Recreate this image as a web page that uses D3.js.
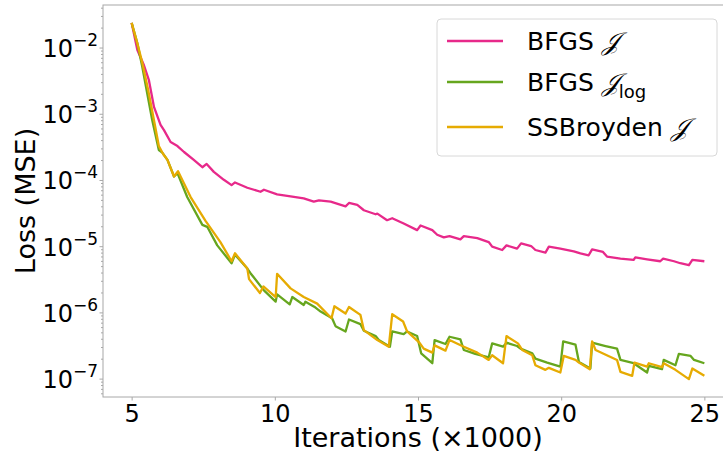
<!DOCTYPE html>
<html>
<head>
<meta charset="utf-8">
<script src="https://cdn.jsdelivr.net/npm/d3@7"></script>
<style>
  body { margin: 0; background: #fff; }
  text { font-family: "DejaVu Sans", sans-serif; fill: #000; }
</style>
</head>
<body>
<div id="chart"></div>
<script>
// series names, colours
const seriesNames = ['BFGS', 'BFGS', 'SSBroyden'];
const colors = ['#e7298a', '#66a61e', '#e6ab02'];

// x values (x1000 iterations) and log10 of loss
const bfgsX = [5, 5.2, 5.43, 5.6, 5.78, 6.01, 6.13, 6.36, 6.6, 6.83, 7.17, 7.47, 7.62, 7.87, 8.22, 8.49, 8.61, 9.04, 9.5, 9.62, 10.08, 10.55, 11.01, 11.36, 11.54, 11.95, 12.47, 12.59, 12.88, 13.11, 13.52, 13.58, 13.92, 14.1, 14.5, 14.97, 15.09, 15.5, 15.67, 15.9, 16.1, 16.48, 16.6, 17.07, 17.47, 17.59, 17.94, 18.09, 18.46, 18.6, 18.95, 19.1, 19.45, 19.57, 19.97, 20.44, 20.67, 20.96, 21.08, 21.46, 21.6, 22.07, 22.53, 22.59, 23.0, 23.46, 23.56, 23.94, 24.16, 24.46, 24.58, 25.0];
const bfgsLog = [-1.62, -2.03, -2.26, -2.48, -2.89, -3.16, -3.24, -3.42, -3.48, -3.57, -3.69, -3.80, -3.75, -3.87, -3.99, -4.07, -4.03, -4.11, -4.17, -4.14, -4.21, -4.24, -4.27, -4.32, -4.30, -4.32, -4.39, -4.34, -4.37, -4.45, -4.51, -4.50, -4.60, -4.57, -4.65, -4.75, -4.68, -4.75, -4.82, -4.86, -4.84, -4.89, -4.84, -4.87, -4.93, -5.00, -5.05, -4.98, -5.03, -4.95, -4.99, -5.05, -5.09, -5.00, -5.03, -5.07, -5.10, -5.13, -5.04, -5.08, -5.15, -5.18, -5.20, -5.16, -5.19, -5.22, -5.18, -5.22, -5.25, -5.28, -5.20, -5.22];

const logX = [5, 5.2, 5.37, 5.55, 5.72, 5.95, 6.07, 6.25, 6.48, 6.6, 6.94, 7.47, 7.64, 7.99, 8.49, 8.61, 9.04, 9.15, 9.62, 10.03, 10.08, 10.52, 10.61, 11.01, 11.07, 11.42, 11.6, 12.0, 12.12, 12.47, 12.59, 12.99, 13.11, 13.52, 13.63, 14.02, 14.1, 14.5, 14.62, 14.97, 15.11, 15.5, 15.58, 15.96, 16.1, 16.48, 16.6, 17.0, 17.47, 17.59, 17.97, 18.09, 18.46, 18.58, 18.99, 19.1, 19.51, 19.97, 20.07, 20.5, 20.62, 21.02, 21.08, 21.55, 21.95, 22.07, 22.53, 23.0, 23.06, 23.52, 23.58, 23.99, 24.11, 24.52, 24.64, 25.0];
const logLog = [-1.62, -1.93, -2.28, -2.70, -3.09, -3.54, -3.58, -3.69, -3.94, -3.89, -4.25, -4.67, -4.70, -4.98, -5.25, -5.12, -5.33, -5.40, -5.66, -5.83, -5.72, -5.87, -5.76, -5.88, -5.83, -5.92, -5.98, -6.08, -6.20, -6.28, -6.10, -6.17, -6.27, -6.35, -6.41, -6.51, -6.28, -6.32, -6.28, -6.35, -6.61, -6.76, -6.41, -6.47, -6.36, -6.40, -6.56, -6.62, -6.67, -6.46, -6.51, -6.45, -6.50, -6.54, -6.61, -6.69, -6.75, -6.81, -6.43, -6.48, -6.74, -6.84, -6.45, -6.50, -6.54, -6.71, -6.76, -6.90, -6.80, -6.85, -6.71, -6.79, -6.62, -6.65, -6.71, -6.76];

const ssbX = [5, 5.2, 5.37, 5.57, 5.78, 5.95, 6.1, 6.25, 6.48, 6.62, 7.06, 7.58, 8.1, 8.49, 8.61, 9.04, 9.1, 9.48, 9.6, 10.03, 10.08, 10.55, 11.01, 11.48, 11.98, 12.08, 12.47, 12.59, 12.99, 13.11, 13.58, 13.98, 14.1, 14.48, 14.62, 15.03, 15.2, 15.5, 15.58, 15.96, 16.1, 16.6, 17.07, 17.47, 17.59, 17.97, 18.09, 18.49, 18.64, 18.99, 19.1, 19.45, 19.57, 19.97, 20.09, 20.5, 20.62, 21.0, 21.08, 21.2, 21.95, 22.07, 22.48, 22.56, 23.0, 23.06, 23.52, 23.58, 23.99, 24.46, 24.58, 25.0];
const ssbLog = [-1.62, -1.93, -2.22, -2.62, -3.09, -3.48, -3.60, -3.69, -3.94, -3.86, -4.25, -4.61, -4.93, -5.22, -5.10, -5.33, -5.49, -5.70, -5.60, -5.76, -5.41, -5.63, -5.76, -5.86, -6.08, -5.90, -6.01, -5.91, -6.03, -6.26, -6.41, -6.51, -6.02, -6.13, -6.28, -6.44, -6.54, -6.60, -6.49, -6.57, -6.41, -6.51, -6.60, -6.71, -6.64, -6.76, -6.35, -6.46, -6.56, -6.64, -6.79, -6.86, -6.83, -6.90, -6.65, -6.71, -6.75, -6.85, -6.43, -6.56, -6.71, -6.89, -6.95, -6.75, -6.81, -6.76, -6.82, -6.76, -6.86, -7.00, -6.84, -6.95];

const xTicks = [5, 10, 15, 20, 25];
const yTickExps = [-2, -3, -4, -5, -6, -7];

const width = 723, height = 455;
const svg = d3.select('#chart').append('svg')
  .attr('width', width)
  .attr('height', height);

const x = d3.scaleLinear().domain([4, 26]).range([103, 733]);
const y = d3.scaleLog().domain([Math.pow(10, -7.27), Math.pow(10, -1.35)]).range([397, 5]);

const series = [
  { xs: bfgsX, ls: bfgsLog },
  { xs: logX, ls: logLog },
  { xs: ssbX, ls: ssbLog }
].map((s, i) => ({
  color: colors[i],
  pts: s.xs.map((v, j) => [v, Math.pow(10, s.ls[j])])
}));

const line = d3.line().x(d => x(d[0])).y(d => y(d[1]));

svg.append('g')
  .selectAll('path')
  .data(series)
  .join('path')
  .attr('d', d => line(d.pts))
  .attr('fill', 'none')
  .attr('stroke', d => d.color)
  .attr('stroke-width', 2.3)
  .attr('stroke-linejoin', 'round');

// frame
const spine = '#a8a8a8';
svg.append('rect')
  .attr('x', 103).attr('y', 5)
  .attr('width', 733 - 103).attr('height', 397 - 5)
  .attr('fill', 'none')
  .attr('stroke', spine)
  .attr('stroke-width', 1);

// x axis
const xAxis = d3.axisBottom(x).tickValues(xTicks).tickSize(3.5).tickPadding(4).tickFormat(d3.format('d'));
const gx = svg.append('g').attr('transform', 'translate(0,397)').call(xAxis);
gx.select('.domain').remove();
gx.selectAll('line').attr('stroke', spine);
gx.selectAll('text').attr('font-size', 24).attr('font-family', 'DejaVu Sans');

// y axis, minor ticks
const minor = [];
for (let e = -8; e <= -1; e++) for (let k = 2; k <= 9; k++) {
  const v = k * Math.pow(10, e);
  if (v >= y.domain()[0] && v <= y.domain()[1]) minor.push(v);
}
svg.append('g').selectAll('line').data(minor).join('line')
  .attr('x1', 103).attr('x2', 101)
  .attr('y1', d => y(d)).attr('y2', d => y(d))
  .attr('stroke', spine);

const yt = svg.append('g').selectAll('g').data(yTickExps).join('g')
  .attr('transform', d => `translate(103,${y(Math.pow(10, d))})`);
yt.append('line').attr('x1', 0).attr('x2', -3.5).attr('stroke', spine);
const lbl = yt.append('text')
  .attr('x', -5).attr('y', 9)
  .attr('text-anchor', 'end')
  .attr('font-size', 24);
lbl.append('tspan').text('10');
lbl.append('tspan').attr('dy', -11).attr('font-size', 17).text(d => '\u2212' + Math.abs(d));

// axis titles
svg.append('text')
  .attr('transform', `translate(35,${(5 + 397) / 2}) rotate(-90)`)
  .attr('text-anchor', 'middle')
  .attr('font-size', 27)
  .text('Loss (MSE)');

svg.append('text')
  .attr('x', (103 + 733) / 2).attr('y', 447)
  .attr('text-anchor', 'middle')
  .attr('font-size', 27)
  .text('Iterations (\u00d71000)');

// legend
const lg = svg.append('g');
lg.append('rect')
  .attr('x', 437).attr('y', 19).attr('width', 280).attr('height', 137)
  .attr('rx', 4)
  .attr('fill', 'rgba(255,255,255,0.8)')
  .attr('stroke', '#d8d8d8');
const rows = lg.selectAll('g').data(seriesNames).join('g')
  .attr('transform', (d, i) => `translate(0,${[41, 82, 127][i]})`);
rows.append('line').attr('x1', 447).attr('x2', 503)
  .attr('stroke', (d, i) => colors[i]).attr('stroke-width', 2.3);
const lt = rows.append('text').attr('x', 527).attr('y', 9).attr('font-size', 25);
lt.append('tspan').text(d => d + ' ');
lt.append('tspan').attr('font-family', 'DejaVu Serif, serif').attr('font-style', 'italic').text('\ud835\udca5');
lt.filter((d, i) => i === 1).append('tspan').attr('dy', 7).attr('font-size', 18).text('log');
</script>
</body>
</html>
